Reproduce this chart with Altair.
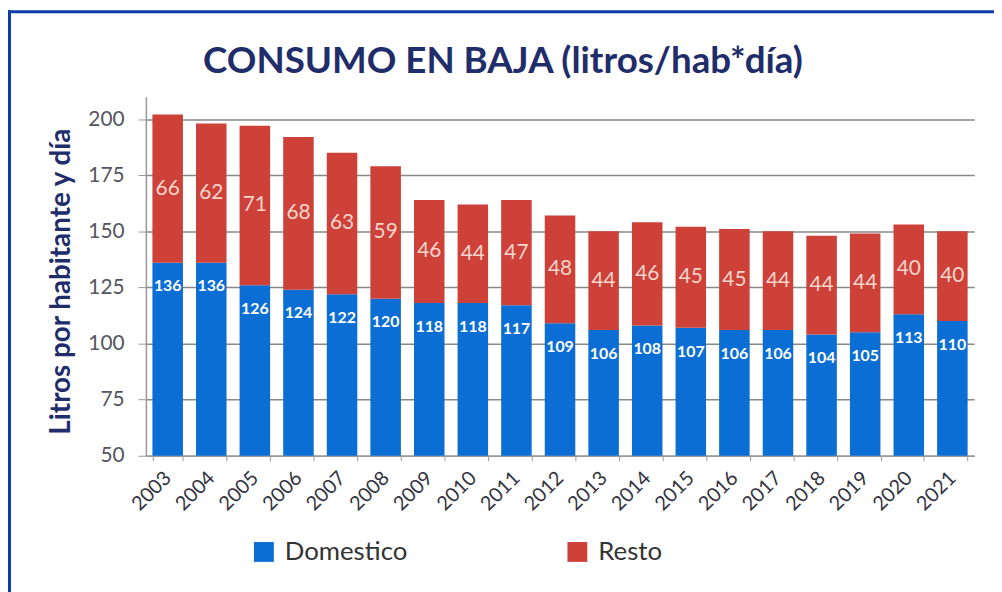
import altair as alt
import pandas as pd

years = [str(y) for y in range(2003, 2022)]
domestico = [136, 136, 126, 124, 122, 120, 118, 118, 117, 109, 106, 108, 107, 106, 106, 104, 105, 113, 110]
resto = [66, 62, 71, 68, 63, 59, 46, 44, 47, 48, 44, 46, 45, 45, 44, 44, 44, 40, 40]
series = ["Domestico", "Resto"]
colors = ["#0B6ED4", "#CD4138"]
y_ticks = [50, 75, 100, 125, 150, 175, 200]
title_text = "CONSUMO EN BAJA (litros/hab*día)"

rows = []
for yr, d, r in zip(years, domestico, resto):
    rows.append({"year": yr, "serie": "Domestico", "value": d, "start": 0, "end": d, "mid": d})
    rows.append({"year": yr, "serie": "Resto", "value": r, "start": d, "end": d + r, "mid": d + r / 2})
df = pd.DataFrame(rows)

FONT = "Lato"
W, H = 835, 362

x_enc = alt.X("year:N", sort=years,
              scale=alt.Scale(paddingInner=0.3, paddingOuter=0.15),
              axis=alt.Axis(title=None, labelAngle=-45, labelAlign="right", labelBaseline="middle",
                            labelFontSize=20, labelFont=FONT, labelColor="#333340",
                            labelPadding=14, tickBand="extent", tickSize=5, tickColor="#999999",
                            domainColor="#999999", domainWidth=1.5, grid=False))
y_scale = alt.Scale(domain=[50, 210], nice=False, zero=False)

bars = alt.Chart(df).mark_bar(clip=True).encode(
    x=x_enc,
    y=alt.Y("end:Q", scale=y_scale,
            axis=alt.Axis(values=y_ticks, title="Litros por habitante y día",
                          titleFont=FONT, titleFontSize=28, titleFontWeight="bold", titleColor="#1F2D6B",
                          titleX=-85, titleY=186, titleAngle=-90, titleAlign="center", titleBaseline="middle",
                          labelFont=FONT, labelFontSize=21, labelColor="#555560", labelPadding=14,
                          tickSize=8, tickColor="#999999", domainColor="#999999", domainWidth=1.5,
                          gridColor="#888888", gridWidth=1.5)),
    y2="start:Q",
    color=alt.Color("serie:N", scale=alt.Scale(domain=series, range=colors),
                    legend=alt.Legend(title=None, orient="none", direction="horizontal",
                                      legendX=106, legendY=446, symbolType="square", symbolSize=400,
                                      symbolStrokeWidth=0, labelFont=FONT, labelFontSize=26,
                                      labelColor="#333333", labelOffset=8, columnPadding=158, padding=0)),
)

dom_labels = alt.Chart(df[df.serie == "Domestico"]).mark_text(
    font=FONT, fontSize=16, fontWeight="bold", color="white", dy=24, baseline="middle"
).encode(x=alt.X("year:N", sort=years), y=alt.Y("end:Q", scale=y_scale), text="value:Q")

resto_labels = alt.Chart(df[df.serie == "Resto"]).mark_text(
    font=FONT, fontSize=21, color="#F6D5CC", baseline="middle"
).encode(x=alt.X("year:N", sort=years), y=alt.Y("mid:Q", scale=y_scale), text="value:Q")

title_df = pd.DataFrame({"t": [title_text]})
title_mark = alt.Chart(title_df).mark_text(
    font=FONT, fontSize=37, fontWeight="bold", color="#1F2D6B", align="center", baseline="alphabetic"
).encode(x=alt.value(360), y=alt.value(-24), text="t:N")

frame_df = pd.DataFrame({"k": [0]})
top_border = alt.Chart(frame_df).mark_rule(color="#0D3BA6", strokeWidth=3).encode(
    x=alt.value(-139), x2=alt.value(860), y=alt.value(-85.5))
left_border = alt.Chart(frame_df).mark_rule(color="#0D3BA6", strokeWidth=3).encode(
    x=alt.value(-137.5), y=alt.value(-87), y2=alt.value(600))

chart = alt.layer(bars, dom_labels, resto_labels, title_mark, top_border, left_border).properties(
    width=W, height=H,
    autosize=alt.AutoSizeParams(type="none"),
    padding={"left": 139, "top": 87, "right": 20, "bottom": 135},
).configure(background="white").configure_view(stroke=None)

chart.save("out.html", embed_options={"renderer": "svg", "actions": False})
